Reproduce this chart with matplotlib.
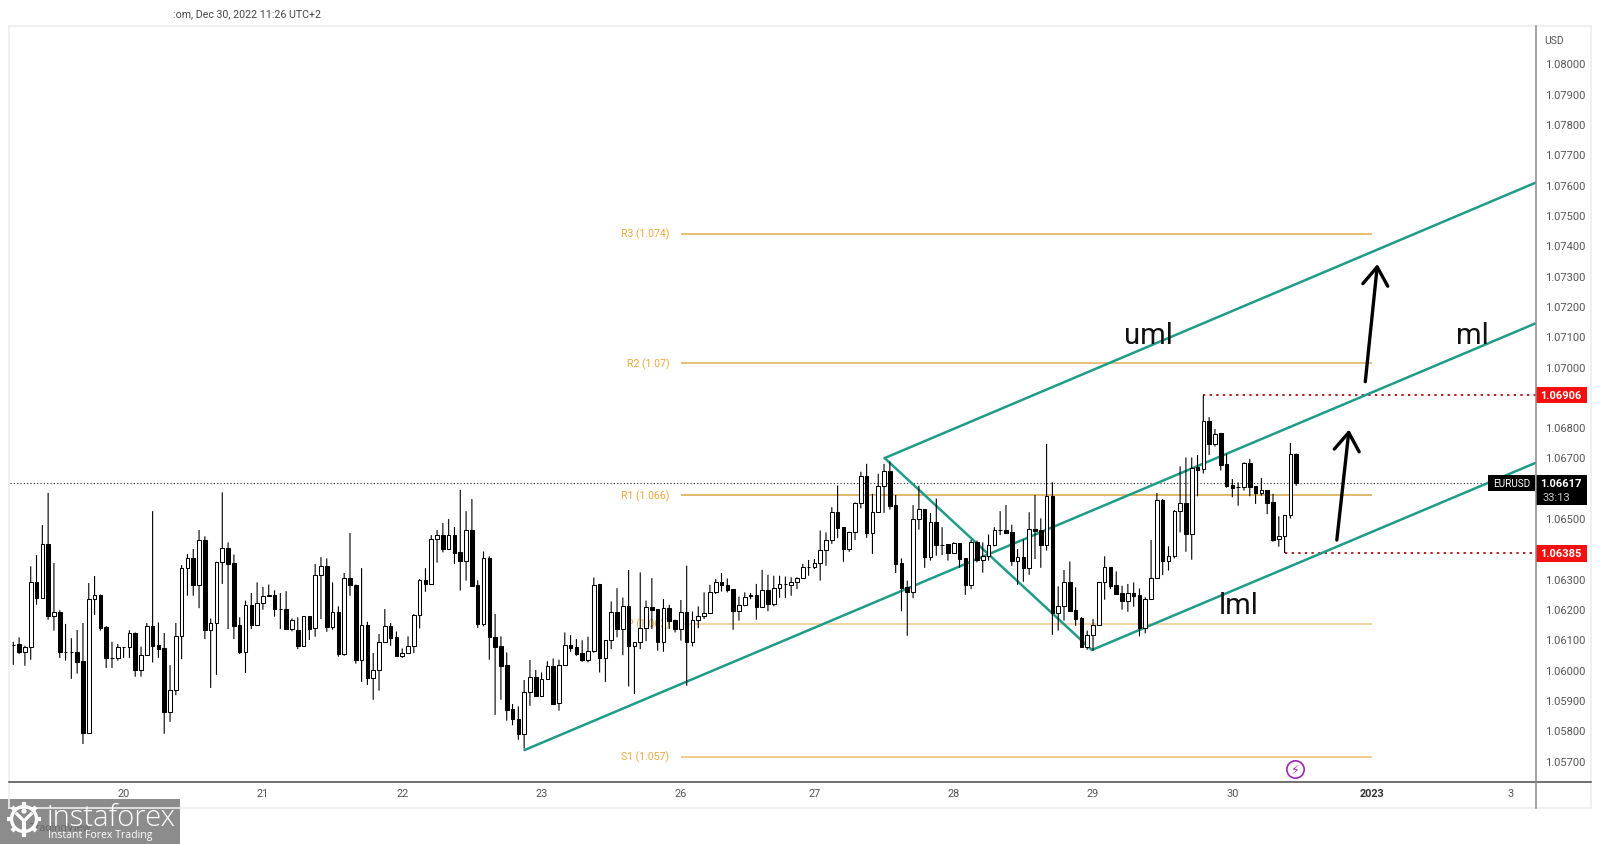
#EURUSD hourly candles with pitchfork, pivots and the instaforex watermark
import numpy as np
import matplotlib
matplotlib.use("Agg")
import matplotlib.pyplot as plt
from matplotlib.patches import Rectangle, Circle

"""CANDLE DATA (read off the picture, in 1e-5 price points)"""
opens = [106083,106085,106059,106074,106288,106237,106413,106178,106192,106060,
106060,106060,106028,105792,106232,106248,106140,106040,106040,106074,
106074,106121,106000,106050,106143,106081,106070,105861,105932,106110,
106334,106367,106280,106427,106132,106153,106354,106400,106351,106146,
106059,106215,106149,106219,106242,106248,106199,106199,106135,106132,
106079,106176,106136,106314,106341,106142,106189,106053,106301,106281,
106033,106149,105973,106000,106092,106143,106107,106046,106054,106077,
106180,106295,106284,106430,106443,106399,106443,106387,106360,106460,
106279,106152,106367,106109,106077,106014,105869,105839,105789,105925,
105975,105914,105968,106011,105889,106014,106080,106074,106054,106033,
106062,106283,106039,106097,106192,106135,106209,106079,106090,106136,
106206,106199,106092,106202,106163,106135,106192,106092,106163,106176,
106186,106255,106288,106281,106265,106195,106214,106246,106246,106208,
106262,106218,106268,106284,106281,106288,106301,106339,106338,106351,
106394,106427,106519,106470,106398,106453,106550,106638,106452,106519,
106605,106654,106542,106351,106272,106257,106496,106529,106373,106486,
106412,106413,106386,106417,106367,106280,106420,106363,106376,106412,
106460,106460,106453,106360,106371,106336,106463,106460,106412,106572,
106188,106209,106288,106196,106169,106076,106115,106149,106288,106338,
106279,106252,106227,106252,106245,106138,106232,106301,106559,106360,
106376,106522,106549,106446,106669,106661,106819,106746,106780,106677,
106609,106601,106601,106681,106605,106584,106592,106552,106430,106442,
106509,106710]

closes = [106083,106059,106074,106288,106237,106413,106178,106192,106059,106060,
106060,106026,105792,106232,106248,106138,106039,106040,106074,106074,
106120,106000,106050,106143,106079,106069,105861,105932,106110,106334,
106367,106280,106427,106132,106153,106354,106400,106350,106145,106059,
106215,106149,106219,106242,106248,106199,106199,106135,106163,106079,
106176,106135,106314,106341,106142,106189,106053,106301,106280,106033,
106149,105973,106000,106093,106143,106105,106046,106054,106077,106180,
106295,106284,106430,106443,106399,106443,106386,106360,106460,106277,
106152,106367,106109,106076,106013,105868,105838,105789,105925,105975,
105914,105968,106011,105888,106014,106080,106072,106053,106033,106062,
106281,106039,106097,106192,106135,106209,106079,106090,106136,106206,
106198,106092,106202,106162,106134,106192,106092,106163,106176,106186,
106255,106288,106280,106264,106195,106214,106241,106243,106208,106262,
106218,106268,106284,106284,106288,106302,106338,106339,106351,106394,
106427,106519,106468,106398,106453,106551,106638,106452,106519,106605,
106654,106541,106350,106270,106257,106496,106529,106373,106486,106412,
106412,106386,106417,106366,106280,106420,106362,106376,106412,106460,
106460,106452,106360,106371,106336,106463,106459,106412,106572,106188,
106209,106288,106195,106167,106076,106115,106149,106288,106338,106276,
106251,106226,106252,106243,106138,106232,106301,106559,106360,106376,
106522,106549,106446,106666,106660,106819,106746,106779,106676,106606,
106600,106601,106681,106604,106584,106592,106550,106428,106442,106509,
106710,106617]

highs = [106092,106107,106079,106341,106378,106477,106583,106352,106196,106151,
106104,106131,106154,106286,106309,106248,106144,106092,106085,106074,
106130,106123,106076,106154,106523,106156,106121,106015,106154,106345,
106382,106398,106461,106440,106169,106356,106585,106420,106380,106173,
106228,106253,106288,106273,106281,106262,106253,106259,106169,106173,
106176,106176,106349,106371,106367,106288,106209,106319,106451,106281,
106335,106158,106055,106118,106200,106154,106126,106070,106110,106184,
106299,106335,106444,106461,106484,106497,106471,106593,106523,106563,
106295,106390,106374,106184,106110,106057,105887,105879,105966,106032,
105999,105991,106028,106037,106033,106123,106114,106101,106097,106109,
106304,106283,106097,106225,106269,106238,106329,106090,106321,106228,
106302,106200,106233,106214,106165,106230,106343,106192,106209,106255,
106280,106299,106319,106301,106265,106241,106255,106253,106283,106329,
106313,106310,106310,106307,106305,106305,106349,106362,106365,106459,
106453,106536,106607,106470,106455,106552,106653,106679,106580,106646,
106679,106687,106576,106367,106294,106543,106607,106529,106517,106565,
106470,106413,106420,106417,106367,106428,106426,106420,106446,106470,
106523,106543,106478,106398,106429,106519,106576,106499,106745,106618,
106275,106329,106357,106272,106173,106129,106167,106288,106374,106338,
106324,106277,106283,106288,106268,106239,106428,106583,106563,106407,
106527,106671,106700,106700,106708,106907,106833,106794,106780,106712,
106629,106618,106684,106695,106605,106632,106592,106580,106506,106509,
106748,106713]

lows = [106016,106052,106013,106033,106214,106237,106165,106129,106039,106030,
105970,105987,105755,105792,106181,106129,106006,106006,106030,106039,
106039,105977,105977,106050,106024,106039,105789,105828,105916,106035,
106244,106244,106203,106101,105940,105983,106283,106134,106101,106052,
105989,106134,106145,106198,106242,106175,106134,106134,106127,106068,
106076,106098,106109,106167,106125,106132,106043,106046,106244,106020,
105960,105950,105901,105931,106088,106079,106046,106039,106054,106055,
106136,106257,106284,106353,106387,106399,106349,106261,106294,106277,
106138,106143,106033,105851,105901,105832,105817,105769,105740,105881,
105914,105914,105968,105884,105865,106014,106059,106046,106026,106024,
106056,105991,105960,106068,106107,106048,105945,105920,106068,106094,
106134,106063,106059,106134,106123,106096,105947,106077,106137,106167,
106186,106250,106258,106255,106132,106162,106209,106233,106165,106208,
106193,106209,106237,106237,106244,106266,106301,106310,106332,106294,
106343,106415,106434,106356,106389,106428,106532,106435,106382,106517,
106517,106528,106319,106193,106112,106236,106462,106336,106360,106376,
106378,106360,106382,106336,106247,106266,106354,106320,106360,106407,
106444,106451,106343,106280,106290,106313,106365,106336,106393,106115,
106129,106162,106195,106145,106074,106066,106063,106149,106231,106266,
106251,106198,106191,106208,106110,106120,106232,106301,106312,106327,
106367,106453,106389,106363,106572,106647,106708,106736,106657,106600,
106569,106541,106591,106572,106547,106574,106513,106422,106406,106385,
106499,106607]

#Axis labels
day_idx = [19, 43, 67, 91, 115, 138, 162, 186, 210, 234, 258]
day_labels = ["20", "21", "22", "23", "26", "27", "28", "29", "30", "2023", "3"]
price_ticks = [1.057, 1.058, 1.059, 1.060, 1.061, 1.062, 1.063, 1.064, 1.065, 1.066, 1.067, 1.068,
               1.069, 1.070, 1.071, 1.072, 1.073, 1.074, 1.075, 1.076, 1.077, 1.078, 1.079, 1.080]

#Pivot levels
pivot_names = ["R3 (1.074)", "R2 (1.07)", "R1 (1.066)", "P (1.062)", "S1 (1.057)"]
pivot_prices = [1.07438, 1.07012, 1.06576, 1.06152, 1.05713]
pivot_colors = ["#dcb04f", "#dcb04f", "#d9a641", "#efc88c", "#efbe72"]
pivot_start = 115
pivot_end = 234

#Pitchfork lines (candle index, price)
median_idx = [88.06, 262.2]
median_px = [1.05735, 1.07142]
upper_idx = [150.1, 262.2]
upper_px = [1.06698, 1.07606]
lower_idx = [185.8, 262.2]
lower_px = [1.06065, 1.06682]
handle_idx = [150.1, 185.8]
handle_px = [1.06698, 1.06065]

#Levels
last_price = 1.06617
res_level = 1.06906
sup_level = 1.06385
res_from = 205
sup_from = 219

#Arrows (from, to) as (candle index, price)
arrows = [((228.0, 1.06428), (230.1, 1.06792)), ((232.9, 1.06950), (235.0, 1.07338))]

W, H = 1600, 845
FONT = "Roboto"
TEAL = "#1f9c87"
GREY = "#555555"

fig = plt.figure(figsize=(W / 100, H / 100), dpi=100, facecolor="white")

"""MAIN PRICE AXES"""
left, right, top, bottom = 9.5, 1535.6, 27, 782
ax = fig.add_axes([left / W, 1 - bottom / H, (right - left) / W, (bottom - top) / H], zorder=1)
ax.set_xlim((left - 13.3) / 5.805, (right - 13.3) / 5.805)
ax.set_ylim(1.05633, 1.08123)
for s in ax.spines.values():
    s.set_visible(False)

o = np.array(opens) / 1e5
c = np.array(closes) / 1e5
h = np.array(highs) / 1e5
l = np.array(lows) / 1e5
idx = np.arange(len(o))

#Pivots sit under the candles
for name, p, col in zip(pivot_names, pivot_prices, pivot_colors):
    ax.hlines(p, pivot_start, pivot_end, color=col, lw=1.1, zorder=1)
    ax.text(pivot_start - 2, p, name, color="#f0a63c", fontsize=7.6, family=FONT, ha="right", va="center", zorder=1)

ax.axhline(last_price, color="#222222", lw=0.8, ls=(0, (1, 2)), zorder=1)
ax.hlines(res_level, res_from, ax.get_xlim()[1], color="#b71c1c", lw=1.4, ls=(0, (1.2, 2.2)), zorder=1)
ax.hlines(sup_level, sup_from, ax.get_xlim()[1], color="#b71c1c", lw=1.4, ls=(0, (1.2, 2.2)), zorder=1)

for xs, ys in [(median_idx, median_px), (upper_idx, upper_px), (lower_idx, lower_px), (handle_idx, handle_px)]:
    ax.plot(xs, ys, color=TEAL, lw=1.8, zorder=2, solid_capstyle="round")

#Candles
ax.vlines(idx, l, h, color="black", lw=0.8, zorder=3, snap=False)
up = c >= o
ax.bar(idx, np.abs(c - o), bottom=np.minimum(o, c), width=0.62,
       color=np.where(up, "white", "black"), edgecolor="black", linewidth=0.75, zorder=4)

for start, end in arrows:
    ax.annotate("", xy=end, xytext=start, zorder=6,
                arrowprops=dict(arrowstyle="->,head_length=0.65,head_width=0.45", color="black", lw=2.4,
                                shrinkA=0, shrinkB=0, mutation_scale=20))

#Lightning marker on the last candle
ax.plot([220.8], [1.05672], marker="o", ms=12.5, mfc="white", mec="#9c27b0", mew=1.2, zorder=6, clip_on=False)
ax.text(220.8, 1.05672, "\u26a1", color="#9c27b0", fontsize=9, family="DejaVu Sans", ha="center", va="center", zorder=7)

ax.text(195.6, 1.07103, "uml", fontsize=21, family=FONT, color="#111111", ha="center", va="center", zorder=6)
ax.text(251.4, 1.07103, "ml", fontsize=21, family=FONT, color="#111111", ha="center", va="center", zorder=6)
ax.text(211.1, 1.06213, "lml", fontsize=21, family=FONT, color="#111111", ha="center", va="center", zorder=6)

ax.set_xticks(day_idx)
ax.set_xticklabels(day_labels, fontsize=7.8, family=FONT, color=GREY)
ax.get_xticklabels()[9].set_color("#333333")
ax.get_xticklabels()[9].set_fontweight("bold")
ax.tick_params(axis="x", length=0, pad=5)
ax.yaxis.tick_right()
ax.set_yticks(price_ticks)
ax.set_yticklabels(["%.5f" % p for p in price_ticks], fontsize=8, family=FONT, color=GREY)
ax.tick_params(axis="y", length=0, pad=7)

"""OVERLAY IN PIXELS (frame, price tags, watermark)"""
ov = fig.add_axes([0, 0, 1, 1], zorder=5)
ov.set_xlim(0, W)
ov.set_ylim(H, 0)
ov.axis("off")
ov.patch.set_visible(False)

#Frame
ov.plot([9, 9], [27, 809], color="#eeeeee", lw=1.2)
ov.plot([9, 1591], [27, 27], color="#eeeeee", lw=1.2)
ov.plot([1591, 1591], [27, 809], color="#eeeeee", lw=1.2)
ov.plot([9, 1591], [809, 809], color="#eeeeee", lw=1.2)
ov.plot([9, 1591], [782.5, 782.5], color="#4a4a4a", lw=1.1)
ov.plot([1535.6, 1535.6], [27, 809], color="#8a8a8a", lw=1.1)

ov.text(173, 14.5, ":om, Dec 30, 2022 11:26 UTC+2", fontsize=7.7, family=FONT, color="#444444", va="center")
ov.text(1544, 41, "USD", fontsize=7.5, family=FONT, color=GREY, va="center")

#Price tags
ov.add_patch(Rectangle((1535.7, 388), 51, 16, fc="#f50f0f", ec="none"))
ov.text(1561, 396.3, "%.5f" % res_level, color="white", fontsize=8, family=FONT, ha="center", va="center", fontweight="bold")
ov.add_patch(Rectangle((1535.7, 546), 51, 16.5, fc="#f50f0f", ec="none"))
ov.text(1561, 554.5, "%.5f" % sup_level, color="white", fontsize=8, family=FONT, ha="center", va="center", fontweight="bold")
ov.add_patch(Rectangle((1535.7, 475.7), 51, 30, fc="black", ec="none"))
ov.text(1561, 484, "%.5f" % last_price, color="white", fontsize=8, family=FONT, ha="center", va="center", fontweight="bold")
ov.text(1556, 497.7, "33:13", color="#c8c8c8", fontsize=8, family=FONT, ha="center", va="center")
ov.add_patch(Rectangle((1487.7, 475.7), 47.5, 16, fc="black", ec="none"))
ov.text(1511.5, 484, "EURUSD", color="white", fontsize=7.2, family=FONT, ha="center", va="center")

#Watermark
ov.add_patch(Rectangle((0, 800), 180, 45, fc="#8c8c8c", ec="none", zorder=1))
ov.text(30, 828, "TradingView", fontsize=8, color="#6a6a6a", family=FONT, va="center", zorder=2)
ov.add_patch(Circle((24, 820), 12.5, fc="none", ec="white", lw=2.4, zorder=3))
for a in np.linspace(0, 2 * np.pi, 9)[:-1]:
    ov.plot([24 + 13 * np.cos(a), 24 + 17 * np.cos(a)], [820 + 13 * np.sin(a), 820 + 17 * np.sin(a)],
            color="white", lw=3, solid_capstyle="butt", zorder=3)
ov.plot([17, 24, 31], [815, 822, 815], color="white", lw=2.4, zorder=3)
ov.plot([24, 24], [822, 836], color="white", lw=3, zorder=3)
ov.add_patch(Circle((24, 812), 2.6, fc="white", ec="none", zorder=3))
ov.text(47, 818, "instaforex", color="white", fontsize=21, family="Open Sans", fontweight="light", va="center", zorder=4)
ov.text(48, 836, "Instant Forex Trading", color="white", fontsize=7.6, family="Open Sans", va="center", zorder=4)

fig.savefig("out.png", dpi=100, facecolor="white")
